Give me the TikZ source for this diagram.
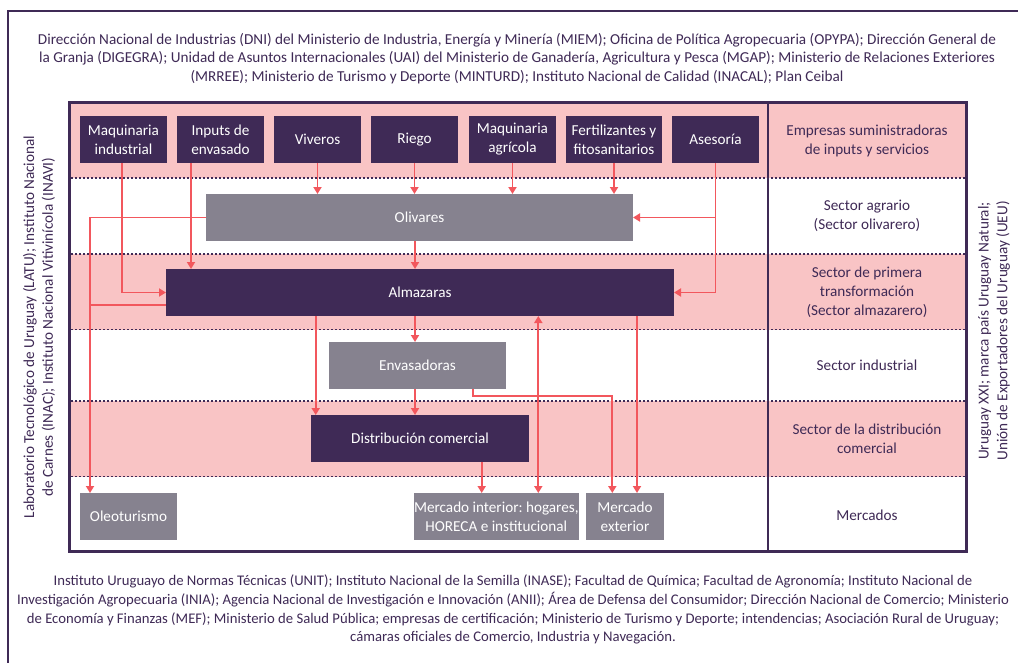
\documentclass[tikz,border=0pt]{standalone}
\usepackage{fontspec}
\setmainfont{Carlito}
\usetikzlibrary{arrows.meta}
\definecolor{plum}{HTML}{3F2A56}
\definecolor{blush}{HTML}{F9C4C5}
\definecolor{slate}{HTML}{86828F}
\definecolor{coral}{HTML}{F2575D}
\frenchspacing

\begin{document}
\begin{tikzpicture}[x=1pt,y=-1pt,
  darkbox/.style={fill=plum, text=white, inner sep=0pt, outer sep=0pt,
    anchor=north west, align=center, font=\fontsize{15.2}{19}\selectfont},
  graybox/.style={darkbox, fill=slate},
  rowlabel/.style={text=plum, align=center, font=\fontsize{15.2}{19}\selectfont},
  bodytext/.style={text=plum, align=center, font=\fontsize{15.2}{18.7}\selectfont},
  flow/.style={draw=coral, line width=1.9pt, -{Triangle[length=7pt,width=8pt]}},
  twoway/.style={flow, {Triangle[length=7pt,width=8pt]}-{Triangle[length=7pt,width=8pt]}},
  wire/.style={draw=coral, line width=1.9pt},
  dotline/.style={draw=plum, line width=1.6pt, dash pattern=on 1.6pt off 2.4pt},
  frame/.style={draw=plum, line width=2.2pt}]

\useasboundingbox (0,0) rectangle (1018,662);
\fill[white] (0,0) rectangle (1018,662);

% outer frame (open to the right and bottom)
\draw[frame, line width=2pt] (7.5,700) -- (7.5,10.5) -- (1040,10.5);

% sector bands
\fill[blush] (70,103) rectangle (967,178);
\fill[blush] (70,254) rectangle (967,329.5);
\fill[blush] (70,401) rectangle (967,476.5);
\foreach \yy in {178,254,329.5,401,476.5}
  \draw[dotline] (71,\yy) -- (966,\yy);

\draw[frame] (69.5,102.5) rectangle (966.5,551.5);
\draw[frame] (768,102.5) -- (768,551.5);

% suppliers
\node[darkbox, minimum width=87pt, minimum height=47pt] (mi)  at (80,116)  {Maquinaria\\industrial};
\node[darkbox, minimum width=87pt, minimum height=47pt] (ie)  at (177,116) {Inputs de\\envasado};
\node[darkbox, minimum width=87pt, minimum height=47pt] (viv) at (274,116) {Viveros};
\node[darkbox, minimum width=87pt, minimum height=47pt] (rie) at (371,116) {Riego};
\node[darkbox, minimum width=87pt, minimum height=47pt] (ma)  at (469,116) {Maquinaria\\agrícola};
\node[darkbox, minimum width=96pt, minimum height=47pt] (fer) at (566,116) {Fertilizantes y\\fitosanitarios};
\node[darkbox, minimum width=87pt, minimum height=47pt] (ase) at (672,116) {Asesoría};

% chain
\node[graybox, minimum width=427pt, minimum height=47pt] (oli)  at (206,194) {Olivares};
\node[darkbox, minimum width=508pt, minimum height=47pt] (alm)  at (166,269) {Almazaras};
\node[graybox, minimum width=177pt, minimum height=47pt] (env)  at (329,342) {Envasadoras};
\node[darkbox, minimum width=218pt, minimum height=47pt] (dis)  at (311,415) {Distribución comercial};
\node[graybox, minimum width=97pt,  minimum height=47pt] (ole)  at (80,493)  {Oleoturismo};
\node[graybox, minimum width=162pt, minimum height=47pt] (mint) at (414,493) {Mercado interior: hogares,\\HORECA e institucional};
\node[graybox, minimum width=78pt,  minimum height=47pt] (mex)  at (586,493) {Mercado\\exterior};

% sector names
\node[rowlabel] (l1) at (867,141) {Empresas suministradoras\\de inputs y servicios};
\node[rowlabel] (l2) at (867,216) {Sector agrario\\(Sector olivarero)};
\node[rowlabel] (l3) at (867,292) {Sector de primera\\transformación\\(Sector almazarero)};
\node[rowlabel] (l4) at (867,365) {Sector industrial};
\node[rowlabel] (l5) at (867,439) {Sector de la distribución\\comercial};
\node[rowlabel] (l6) at (867,515) {Mercados};

% institutions
\node[bodytext] (top) at (517,58.5) {Dirección Nacional de Industrias (DNI) del Ministerio de Industria, Energía y Minería (MIEM); Oficina de Política Agropecuaria (OPYPA); Dirección General de\\la Granja (DIGEGRA); Unidad de Asuntos Internacionales (UAI) del Ministerio de Ganadería, Agricultura y Pesca (MGAP); Ministerio de Relaciones Exteriores\\(MRREE); Ministerio de Turismo y Deporte (MINTURD); Instituto Nacional de Calidad (INACAL); Plan Ceibal};
\node[bodytext, font=\fontsize{14.7}{18.9}\selectfont] (bot) at (513,609.5) {Instituto Uruguayo de Normas Técnicas (UNIT); Instituto Nacional de la Semilla (INASE); Facultad de Química; Facultad de Agronomía; Instituto Nacional de\\Investigación Agropecuaria (INIA); Agencia Nacional de Investigación e Innovación (ANII); Área de Defensa del Consumidor; Dirección Nacional de Comercio; Ministerio\\de Economía y Finanzas (MEF); Ministerio de Salud Pública; empresas de certificación; Ministerio de Turismo y Deporte; intendencias; Asociación Rural de Uruguay;\\cámaras oficiales de Comercio, Industria y Navegación.};
\node[bodytext, rotate=90] (lft) at (39,327) {Laboratorio Tecnológico de Uruguay (LATU); Instituto Nacional\\de Carnes (INAC); Instituto Nacional Vitivinícola (INAVI)};
\node[bodytext, rotate=90] (rgt) at (994,331) {Uruguay XXI; marca país Uruguay Natural;\\Unión de Exportadores del Uruguay (UEU)};

% wire positions
\coordinate (xMQ) at (122.3,0);
\coordinate (xIE) at (191,0);
\coordinate (xR)  at (415,0);
\coordinate (xO)  at (90,0);
\coordinate (yAl) at (0,305);
\coordinate (xAD) at (315.7,0);
\coordinate (xEM) at (472.7,0);
\coordinate (yEM) at (0,396);
\coordinate (xME) at (612.3,0);
\coordinate (xMI) at (538.3,0);
\coordinate (xAM) at (637,0);
\coordinate (xDM) at (481.7,0);

% supplier flows
\draw[flow] (mi.south -| xMQ) |- (alm.west);
\draw[flow] (ie.south -| xIE) -- (alm.north -| xIE);
\draw[flow] (viv.south) -- (viv.south |- oli.north);
\draw[flow] (rie.south) -- (rie.south |- oli.north);
\draw[flow] (ma.south) -- (ma.south |- oli.north);
\draw[flow] (fer.south) -- (fer.south |- oli.north);
\draw[flow] (ase.south) |- (alm.east);
\draw[flow] (ase.south |- oli.east) -- (oli.east);

% production chain
\draw[flow] (oli.south -| xR) -- (alm.north -| xR);
\draw[flow] (oli.west) -| (ole.north -| xO);
\draw[wire] (alm.west |- yAl) -- (xO |- yAl);
\draw[flow] (alm.south -| xAD) -- (dis.north -| xAD);
\draw[flow] (alm.south -| xR) -- (env.north -| xR);
\draw[flow] (env.south -| xR) -- (dis.north -| xR);
\draw[flow] (env.south -| xEM) |- (xME |- yEM) -- (mex.north -| xME);
\draw[twoway] (mint.north -| xMI) -- (alm.south -| xMI);
\draw[flow] (alm.south -| xAM) -- (mex.north -| xAM);
\draw[flow] (dis.south -| xDM) -- (mint.north -| xDM);
\end{tikzpicture}
\end{document}
